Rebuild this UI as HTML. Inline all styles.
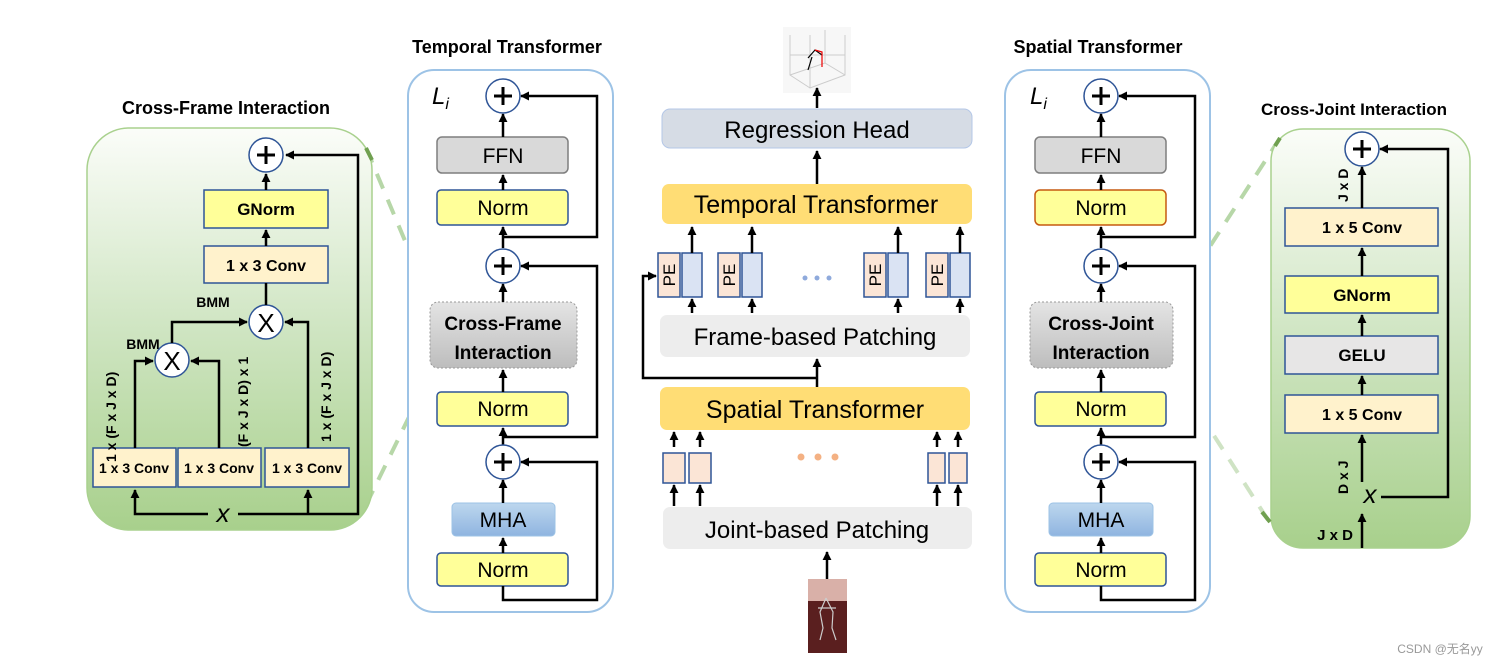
<!DOCTYPE html>
<html><head><meta charset="utf-8"><style>
body{margin:0;background:#fff}
svg{display:block}
text{font-family:"Liberation Sans","Noto Sans CJK SC",sans-serif}
.b{font-weight:bold}
</style></head><body>
<svg width="1507" height="666" viewBox="0 0 1507 666" xmlns="http://www.w3.org/2000/svg">
<defs>
<marker id="a" viewBox="0 0 10 10" refX="9" refY="5" markerWidth="9" markerHeight="9" markerUnits="userSpaceOnUse" orient="auto"><path d="M0,0L10,5L0,10z" fill="#000"/></marker>
<linearGradient id="g" x1="0" y1="0" x2="0" y2="1"><stop offset="0" stop-color="#fbfdf9"/><stop offset="0.5" stop-color="#cfe5c2"/><stop offset="1" stop-color="#a8d08c"/></linearGradient>
<linearGradient id="gr" x1="0" y1="0" x2="0" y2="1"><stop offset="0" stop-color="#e4e4e4"/><stop offset="1" stop-color="#bdbdbd"/></linearGradient>
<linearGradient id="bl" x1="0" y1="0" x2="0" y2="1"><stop offset="0" stop-color="#bdd7ee"/><stop offset="1" stop-color="#8fb4e0"/></linearGradient>
<g id="p"><path d="M-9,0H9M0,-9V9" stroke="#000" stroke-width="3"/></g>
</defs>

<!-- dashed connectors -->
<g stroke-width="4" stroke-dasharray="16,12" fill="none">
<line x1="366" y1="148" x2="432" y2="305" stroke="#b7d7a8"/>
<line x1="366" y1="505" x2="432" y2="370" stroke="#b7d7a8"/>
<line x1="1280" y1="138" x2="1172" y2="305" stroke="#b7d7a8"/>
<line x1="1268" y1="520" x2="1172" y2="370" stroke="#cfe3c4"/>
</g>

<!-- LEFT PANEL -->
<text x="226" y="114" class="b" font-size="18" text-anchor="middle">Cross-Frame Interaction</text>
<rect x="87" y="128" width="285" height="402" rx="42" fill="url(#g)" stroke="#a9d18e" stroke-width="1.5"/>
<line x1="366" y1="148" x2="372" y2="160" stroke="#70a050" stroke-width="4"/>
<g stroke="#2f5597" stroke-width="1.5">
<rect x="204" y="190" width="124" height="38" fill="#ffff99"/>
<rect x="204" y="246" width="124" height="37" fill="#fff2cc"/>
<rect x="93" y="448" width="83" height="39" fill="#fff2cc"/>
<rect x="178" y="448" width="83" height="39" fill="#fff2cc"/>
<rect x="265" y="448" width="84" height="39" fill="#fff2cc"/>
<circle cx="266" cy="155" r="17" fill="#fff"/>
<circle cx="266" cy="322" r="17" fill="#fff"/>
<circle cx="172" cy="360" r="17" fill="#fff"/>
</g>
<g font-size="16" class="b" text-anchor="middle">
<text x="266" y="215" font-size="17">GNorm</text>
<text x="266" y="271">1 x 3 Conv</text>
<text x="134" y="473" font-size="14">1 x 3 Conv</text>
<text x="219" y="473" font-size="14">1 x 3 Conv</text>
<text x="307" y="473" font-size="14">1 x 3 Conv</text>
</g>
<use href="#p" x="266" y="155"/>
<text x="266" y="332" font-size="26" text-anchor="middle">X</text>
<text x="172" y="370" font-size="26" text-anchor="middle">X</text>
<text x="213" y="307" font-size="14" class="b" text-anchor="middle">BMM</text>
<text x="143" y="349" font-size="14" class="b" text-anchor="middle">BMM</text>
<text transform="translate(116,462) rotate(-90)" font-size="14" class="b">1 x  (F x J  x D)</text>
<text transform="translate(248,447) rotate(-90)" font-size="14" class="b">(F x J  x D) x 1</text>
<text transform="translate(331,442) rotate(-90)" font-size="14" class="b">1 x (F x J x D)</text>
<text x="223" y="522" font-size="26" font-style="italic" font-family="Liberation Serif,serif" text-anchor="middle">x</text>
<g stroke="#000" stroke-width="2.5" fill="none">
<polyline points="208,514 135,514 135,490" marker-end="url(#a)"/>
<polyline points="238,514 358,514 358,155 286,155" marker-end="url(#a)"/>
<line x1="308" y1="514" x2="308" y2="490" marker-end="url(#a)"/>
<polyline points="135,448 135,361 153,361" marker-end="url(#a)"/>
<polyline points="219,448 219,361 191,361" marker-end="url(#a)"/>
<polyline points="172,343 172,322 247,322" marker-end="url(#a)"/>
<polyline points="308,448 308,322 285,322" marker-end="url(#a)"/>
<line x1="266" y1="305" x2="266" y2="283"/>
<line x1="266" y1="246" x2="266" y2="230" marker-end="url(#a)"/>
<line x1="266" y1="190" x2="266" y2="174" marker-end="url(#a)"/>
</g>

<!-- TEMPORAL PANEL -->
<text x="507" y="53" class="b" font-size="18" text-anchor="middle">Temporal Transformer</text>
<rect x="408" y="70" width="205" height="542" rx="26" fill="#fff" stroke="#9dc3e6" stroke-width="2"/>
<text x="432" y="104" font-size="24" font-style="italic" font-family="Liberation Serif,serif">L<tspan font-size="16" dy="5">i</tspan></text>
<rect x="437" y="137" width="131" height="36" rx="5" fill="#d9d9d9" stroke="#7f7f7f" stroke-width="1.5"/>
<rect x="437" y="190" width="131" height="35" rx="4" fill="#ffff99" stroke="#2f5597" stroke-width="1.5"/>
<rect x="430" y="302" width="147" height="66" rx="8" fill="url(#gr)" stroke="#999" stroke-dasharray="2,2"/>
<rect x="437" y="392" width="131" height="34" rx="4" fill="#ffff99" stroke="#2f5597" stroke-width="1.5"/>
<rect x="452" y="503" width="103" height="33" rx="4" fill="url(#bl)" stroke="#9dc3e6"/>
<rect x="437" y="553" width="131" height="33" rx="4" fill="#ffff99" stroke="#2f5597" stroke-width="1.5"/>
<g font-size="21" text-anchor="middle">
<text x="503" y="163">FFN</text>
<text x="503" y="215">Norm</text>
<text x="503" y="330" class="b" font-size="19">Cross-Frame</text>
<text x="503" y="359" class="b" font-size="19">Interaction</text>
<text x="503" y="416">Norm</text>
<text x="503" y="527">MHA</text>
<text x="503" y="577">Norm</text>
</g>
<g stroke="#000" stroke-width="2.5" fill="none">
<polyline points="503,237 597,237 597,96 521,96" marker-end="url(#a)"/>
<polyline points="503,437 597,437 597,266 521,266" marker-end="url(#a)"/>
<polyline points="503,586 503,600 597,600 597,462 521,462" marker-end="url(#a)"/>
<line x1="503" y1="137" x2="503" y2="114" marker-end="url(#a)"/>
<line x1="503" y1="190" x2="503" y2="175" marker-end="url(#a)"/>
<line x1="503" y1="248" x2="503" y2="227" marker-end="url(#a)"/>
<line x1="503" y1="302" x2="503" y2="284" marker-end="url(#a)"/>
<line x1="503" y1="392" x2="503" y2="370" marker-end="url(#a)"/>
<line x1="503" y1="446" x2="503" y2="428" marker-end="url(#a)"/>
<line x1="503" y1="503" x2="503" y2="480" marker-end="url(#a)"/>
<line x1="503" y1="553" x2="503" y2="538" marker-end="url(#a)"/>
</g>
<g stroke="#2f5597" stroke-width="1.5" fill="#fff">
<circle cx="503" cy="96" r="17"/><circle cx="503" cy="266" r="17"/><circle cx="503" cy="462" r="17"/>
</g>
<use href="#p" x="503" y="96"/><use href="#p" x="503" y="266"/><use href="#p" x="503" y="462"/>

<!-- CENTER -->
<rect x="783" y="27" width="68" height="66" fill="#f7f7f7"/>
<g stroke="#ccc" stroke-width="1" fill="none"><path d="M790,35 L790,75 L810,88 L845,75 L845,35 M790,75 L825,63 L845,75 M810,35 L810,88 M825,30 L825,63 M790,55 L845,55"/></g>
<path d="M808,58 L815,50 L822,55 M812,57 L808,70" stroke="#000" stroke-width="1.2" fill="none"/>
<path d="M815,50 L822,52 L822,67" stroke="#e00" stroke-width="1.2" fill="none"/>
<g stroke="#000" stroke-width="2.5" fill="none">
<line x1="817" y1="108" x2="817" y2="88" marker-end="url(#a)"/>
<line x1="817" y1="184" x2="817" y2="151" marker-end="url(#a)"/>
</g>
<rect x="662" y="109" width="310" height="39" rx="8" fill="#d6dce5" stroke="#b4c7e7"/>
<text x="817" y="138" font-size="24" text-anchor="middle">Regression Head</text>
<rect x="662" y="184" width="310" height="40" rx="7" fill="#ffd966" opacity="0.9"/>
<text x="816" y="213" font-size="25" text-anchor="middle">Temporal Transformer</text>
<g stroke="#2f5597" stroke-width="1.5">
<rect x="658" y="253" width="22" height="44" fill="#fbe5d6"/><rect x="682" y="253" width="20" height="44" fill="#dae3f3"/>
<rect x="718" y="253" width="22" height="44" fill="#fbe5d6"/><rect x="742" y="253" width="20" height="44" fill="#dae3f3"/>
<rect x="864" y="253" width="22" height="44" fill="#fbe5d6"/><rect x="888" y="253" width="20" height="44" fill="#dae3f3"/>
<rect x="926" y="253" width="22" height="44" fill="#fbe5d6"/><rect x="950" y="253" width="20" height="44" fill="#dae3f3"/>
</g>
<g font-size="17" text-anchor="middle">
<text transform="translate(675,275) rotate(-90)">PE</text>
<text transform="translate(735,275) rotate(-90)">PE</text>
<text transform="translate(881,275) rotate(-90)">PE</text>
<text transform="translate(943,275) rotate(-90)">PE</text>
</g>
<g fill="#8faadc"><circle cx="805" cy="278" r="2.5"/><circle cx="817" cy="278" r="2.5"/><circle cx="829" cy="278" r="2.5"/></g>
<g stroke="#000" stroke-width="2.5" fill="none">
<line x1="692" y1="253" x2="692" y2="227" marker-end="url(#a)"/>
<line x1="752" y1="253" x2="752" y2="227" marker-end="url(#a)"/>
<line x1="898" y1="253" x2="898" y2="227" marker-end="url(#a)"/>
<line x1="960" y1="253" x2="960" y2="227" marker-end="url(#a)"/>
<line x1="692" y1="313" x2="692" y2="299" marker-end="url(#a)"/>
<line x1="752" y1="313" x2="752" y2="299" marker-end="url(#a)"/>
<line x1="898" y1="313" x2="898" y2="299" marker-end="url(#a)"/>
<line x1="960" y1="313" x2="960" y2="299" marker-end="url(#a)"/>
<polyline points="817,378 643,378 643,276 656,276" marker-end="url(#a)"/>
<line x1="817" y1="387" x2="817" y2="359" marker-end="url(#a)"/>
</g>
<rect x="660" y="315" width="310" height="42" rx="7" fill="#ededed"/>
<text x="815" y="345" font-size="24" text-anchor="middle">Frame-based Patching</text>
<rect x="660" y="387" width="310" height="43" rx="7" fill="#ffd966" opacity="0.9"/>
<text x="815" y="418" font-size="25" text-anchor="middle">Spatial Transformer</text>
<g stroke="#2f5597" stroke-width="1.5" fill="#fbe5d6">
<rect x="663" y="453" width="22" height="30"/><rect x="689" y="453" width="22" height="30"/>
<rect x="928" y="453" width="17" height="30"/><rect x="949" y="453" width="18" height="30"/>
</g>
<g fill="#f4b183"><circle cx="801" cy="457" r="3.5"/><circle cx="818" cy="457" r="3.5"/><circle cx="835" cy="457" r="3.5"/></g>
<g stroke="#000" stroke-width="2.5" fill="none">
<line x1="674" y1="447" x2="674" y2="432" marker-end="url(#a)"/>
<line x1="700" y1="447" x2="700" y2="432" marker-end="url(#a)"/>
<line x1="937" y1="447" x2="937" y2="432" marker-end="url(#a)"/>
<line x1="958" y1="447" x2="958" y2="432" marker-end="url(#a)"/>
<line x1="674" y1="506" x2="674" y2="485" marker-end="url(#a)"/>
<line x1="700" y1="506" x2="700" y2="485" marker-end="url(#a)"/>
<line x1="937" y1="506" x2="937" y2="485" marker-end="url(#a)"/>
<line x1="958" y1="506" x2="958" y2="485" marker-end="url(#a)"/>
<line x1="827" y1="579" x2="827" y2="552" marker-end="url(#a)"/>
</g>
<rect x="663" y="507" width="309" height="42" rx="7" fill="#ededed"/>
<text x="817" y="538" font-size="24" text-anchor="middle">Joint-based Patching</text>
<rect x="808" y="579" width="39" height="74" fill="#5a1f1f"/>
<rect x="808" y="579" width="39" height="22" fill="#d9b0a8"/>
<path d="M826,598 L820,612 L823,628 L820,640 M826,598 L833,612 L832,628 L836,640 M818,608 L836,608" stroke="#ccc" stroke-width="1.2" fill="none"/>

<!-- SPATIAL PANEL -->
<text x="1098" y="53" class="b" font-size="18" text-anchor="middle">Spatial Transformer</text>
<rect x="1005" y="70" width="205" height="542" rx="26" fill="#fff" stroke="#9dc3e6" stroke-width="2"/>
<text x="1030" y="104" font-size="24" font-style="italic" font-family="Liberation Serif,serif">L<tspan font-size="16" dy="5">i</tspan></text>
<rect x="1035" y="137" width="131" height="36" rx="5" fill="#d9d9d9" stroke="#7f7f7f" stroke-width="1.5"/>
<rect x="1035" y="190" width="131" height="35" rx="5" fill="#ffff99" stroke="#c55a11" stroke-width="1.5"/>
<rect x="1030" y="302" width="143" height="66" rx="8" fill="url(#gr)" stroke="#999" stroke-dasharray="2,2"/>
<rect x="1035" y="392" width="131" height="34" rx="4" fill="#ffff99" stroke="#2f5597" stroke-width="1.5"/>
<rect x="1049" y="503" width="104" height="33" rx="4" fill="url(#bl)" stroke="#9dc3e6"/>
<rect x="1035" y="553" width="131" height="33" rx="4" fill="#ffff99" stroke="#2f5597" stroke-width="1.5"/>
<g font-size="21" text-anchor="middle">
<text x="1101" y="163">FFN</text>
<text x="1101" y="215">Norm</text>
<text x="1101" y="330" class="b" font-size="19">Cross-Joint</text>
<text x="1101" y="359" class="b" font-size="19">Interaction</text>
<text x="1101" y="416">Norm</text>
<text x="1101" y="527">MHA</text>
<text x="1101" y="577">Norm</text>
</g>
<g stroke="#000" stroke-width="2.5" fill="none">
<polyline points="1101,237 1195,237 1195,96 1119,96" marker-end="url(#a)"/>
<polyline points="1101,437 1195,437 1195,266 1119,266" marker-end="url(#a)"/>
<polyline points="1101,586 1101,600 1195,600 1195,462 1119,462" marker-end="url(#a)"/>
<line x1="1101" y1="137" x2="1101" y2="114" marker-end="url(#a)"/>
<line x1="1101" y1="190" x2="1101" y2="175" marker-end="url(#a)"/>
<line x1="1101" y1="248" x2="1101" y2="227" marker-end="url(#a)"/>
<line x1="1101" y1="302" x2="1101" y2="284" marker-end="url(#a)"/>
<line x1="1101" y1="392" x2="1101" y2="370" marker-end="url(#a)"/>
<line x1="1101" y1="446" x2="1101" y2="428" marker-end="url(#a)"/>
<line x1="1101" y1="503" x2="1101" y2="480" marker-end="url(#a)"/>
<line x1="1101" y1="553" x2="1101" y2="538" marker-end="url(#a)"/>
</g>
<g stroke="#2f5597" stroke-width="1.5" fill="#fff">
<circle cx="1101" cy="96" r="17"/><circle cx="1101" cy="266" r="17"/><circle cx="1101" cy="462" r="17"/>
</g>
<use href="#p" x="1101" y="96"/><use href="#p" x="1101" y="266"/><use href="#p" x="1101" y="462"/>

<!-- RIGHT PANEL -->
<text x="1354" y="115" class="b" font-size="17" text-anchor="middle">Cross-Joint Interaction</text>
<rect x="1271" y="129" width="199" height="419" rx="32" fill="url(#g)" stroke="#a9d18e" stroke-width="1.5"/>
<line x1="1280" y1="138" x2="1275" y2="146" stroke="#70a050" stroke-width="4"/>
<line x1="1262" y1="512" x2="1270" y2="522" stroke="#70a050" stroke-width="4"/>
<g stroke="#2f5597" stroke-width="1.5">
<rect x="1285" y="208" width="153" height="38" fill="#fff2cc"/>
<rect x="1285" y="276" width="153" height="37" fill="#ffff99"/>
<rect x="1285" y="336" width="153" height="38" fill="#e7e6e6"/>
<rect x="1285" y="395" width="153" height="38" fill="#fff2cc"/>
<circle cx="1362" cy="149" r="17" fill="#fff"/>
</g>
<g font-size="16" class="b" text-anchor="middle">
<text x="1362" y="233">1 x 5 Conv</text>
<text x="1362" y="301" font-size="17">GNorm</text>
<text x="1362" y="361" font-size="17">GELU</text>
<text x="1362" y="420">1 x 5 Conv</text>
<text x="1335" y="540" font-size="15">J x D</text>
</g>
<use href="#p" x="1362" y="149"/>
<text transform="translate(1348,202) rotate(-90)" font-size="14" class="b">J x D</text>
<text transform="translate(1348,494) rotate(-90)" font-size="14" class="b">D x J</text>
<text x="1370" y="503" font-size="26" font-style="italic" font-family="Liberation Serif,serif" text-anchor="middle">x</text>
<g stroke="#000" stroke-width="2.5" fill="none">
<polyline points="1381,497 1448,497 1448,149 1380,149" marker-end="url(#a)"/>
<line x1="1362" y1="208" x2="1362" y2="167" marker-end="url(#a)"/>
<line x1="1362" y1="276" x2="1362" y2="248" marker-end="url(#a)"/>
<line x1="1362" y1="336" x2="1362" y2="315" marker-end="url(#a)"/>
<line x1="1362" y1="395" x2="1362" y2="376" marker-end="url(#a)"/>
<line x1="1362" y1="482" x2="1362" y2="435" marker-end="url(#a)"/>
<line x1="1362" y1="548" x2="1362" y2="514" marker-end="url(#a)"/>
</g>

<text x="1440" y="653" font-size="12" fill="#999" text-anchor="middle">CSDN @无名yy</text>
</svg>
</body></html>
